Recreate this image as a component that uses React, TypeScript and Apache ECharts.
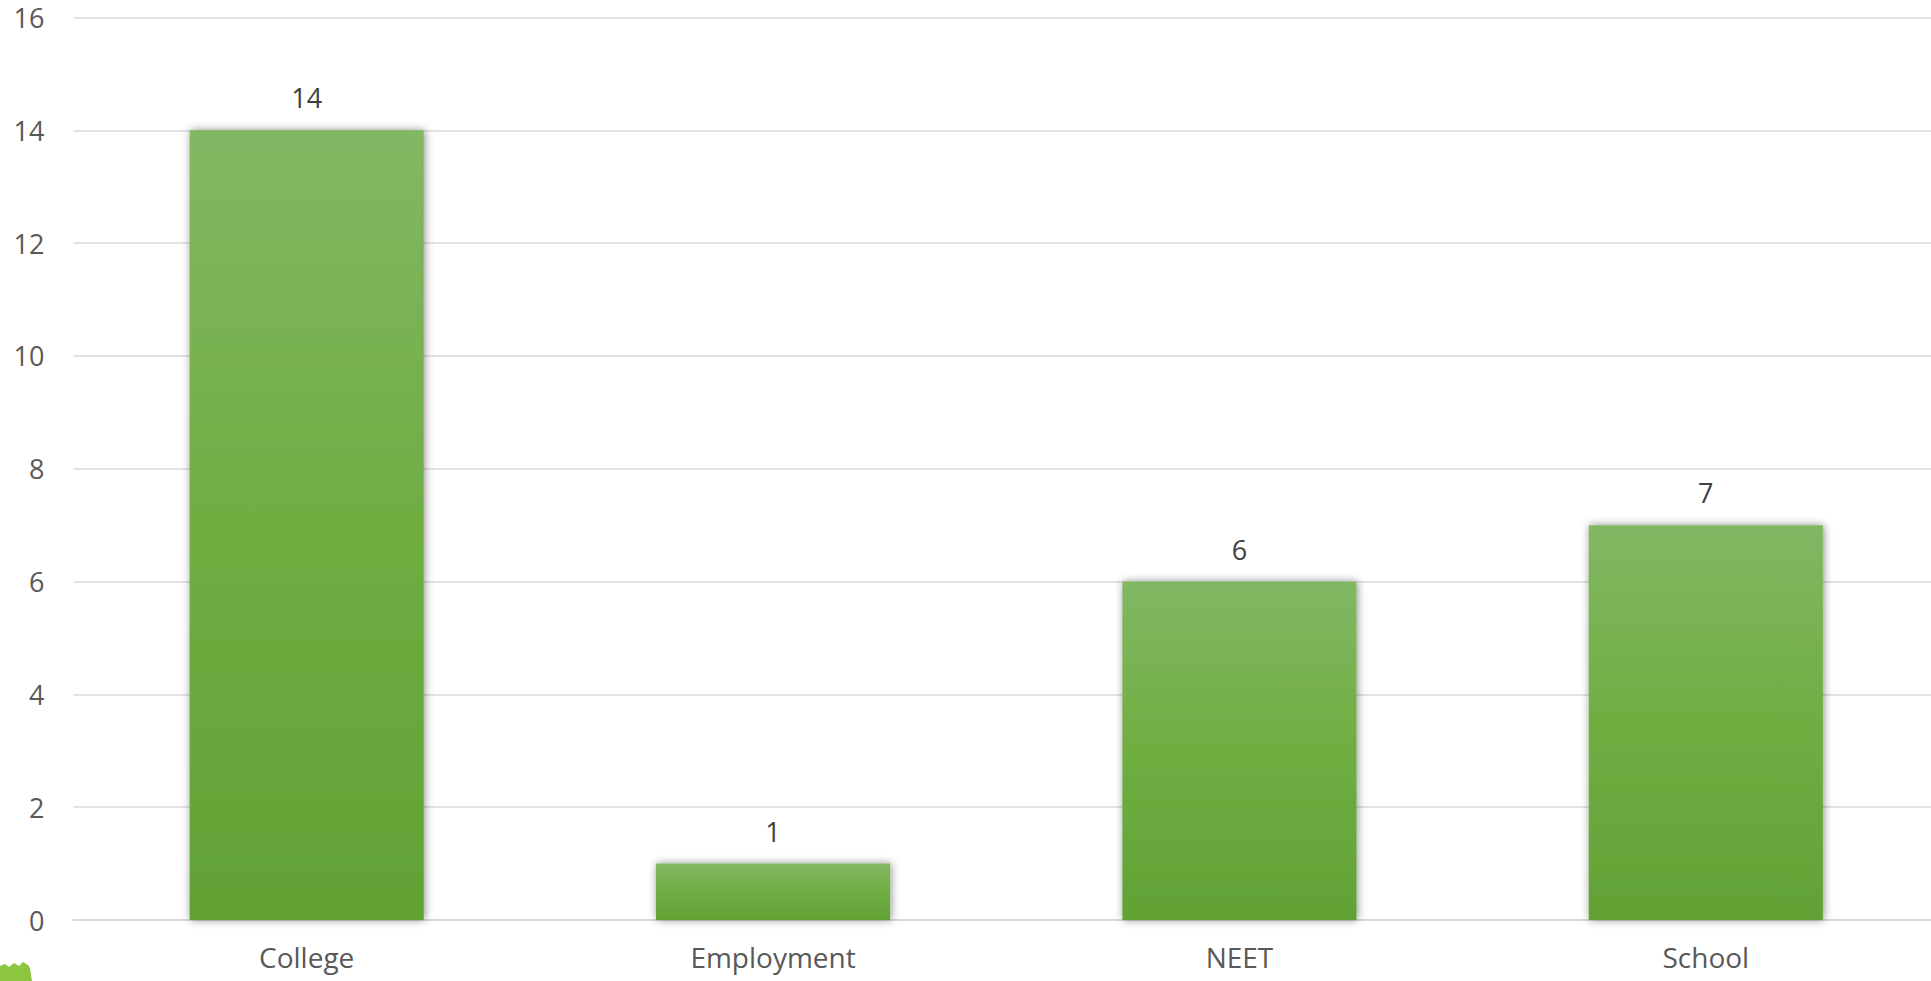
import React, { useEffect, useRef } from "react";
import * as echarts from "echarts";

const categories = ["College", "Employment", "NEET", "School"];
const counts = [14, 1, 6, 7];
const yTicks = { min: 0, max: 16, interval: 2 };

const FONT = "'Open Sans', 'Noto Sans', sans-serif";

export default function App() {
  const ref = useRef<HTMLDivElement>(null);

  useEffect(() => {
    if (!ref.current) return;
    const chart = echarts.init(ref.current, undefined, { renderer: "svg" });

    const barFill = new echarts.graphic.LinearGradient(0, 0, 0, 1, [
      { offset: 0, color: "#82b763" },
      { offset: 0.5, color: "#6fae42" },
      { offset: 1, color: "#62a235" },
    ]);

    chart.setOption({
      animation: false,
      backgroundColor: "#ffffff",
      grid: {
        left: 73.5,
        right: -8,
        top: 17.5,
        bottom: 61,
        containLabel: false,
        outerBoundsMode: "none",
      },
      xAxis: {
        type: "category",
        data: categories,
        axisLine: { show: true, lineStyle: { color: "#d9d9d9", width: 2 } },
        axisTick: { show: false },
        axisLabel: {
          color: "#595959",
          fontFamily: FONT,
          fontSize: 28,
          margin: 23,
        },
      },
      yAxis: {
        type: "value",
        min: yTicks.min,
        max: yTicks.max,
        interval: yTicks.interval,
        axisLine: { show: false },
        axisTick: { show: false },
        axisLabel: {
          color: "#595959",
          fontFamily: FONT,
          fontSize: 27,
          margin: 29,
        },
        splitLine: { lineStyle: { color: "#d9d9d9", width: 1.5 } },
      },
      series: [
        {
          type: "bar",
          data: counts,
          barWidth: "50.2%",
          itemStyle: {
            color: barFill,
            shadowColor: "rgba(0,0,0,0.45)",
            shadowBlur: 9,
            shadowOffsetX: 1,
            shadowOffsetY: 0,
          },
          label: {
            show: true,
            position: "top",
            distance: 19,
            color: "#404040",
            fontFamily: FONT,
            fontSize: 27,
          },
        },
      ],
      graphic: [
        {
          type: "polygon",
          left: 0,
          bottom: 0,
          shape: {
            points: [
              [0, 981],
              [0, 966],
              [5, 964],
              [9, 967],
              [14, 963],
              [19, 966],
              [23, 962],
              [28, 965],
              [30, 968],
              [31, 975],
              [32, 981],
            ],
          },
          style: { fill: "#8cc540" },
        },
      ],
    });

    return () => chart.dispose();
  }, []);

  return (
    <div
      ref={ref}
      style={{ position: "fixed", left: 0, top: 0, width: 1931, height: 981 }}
    />
  );
}
